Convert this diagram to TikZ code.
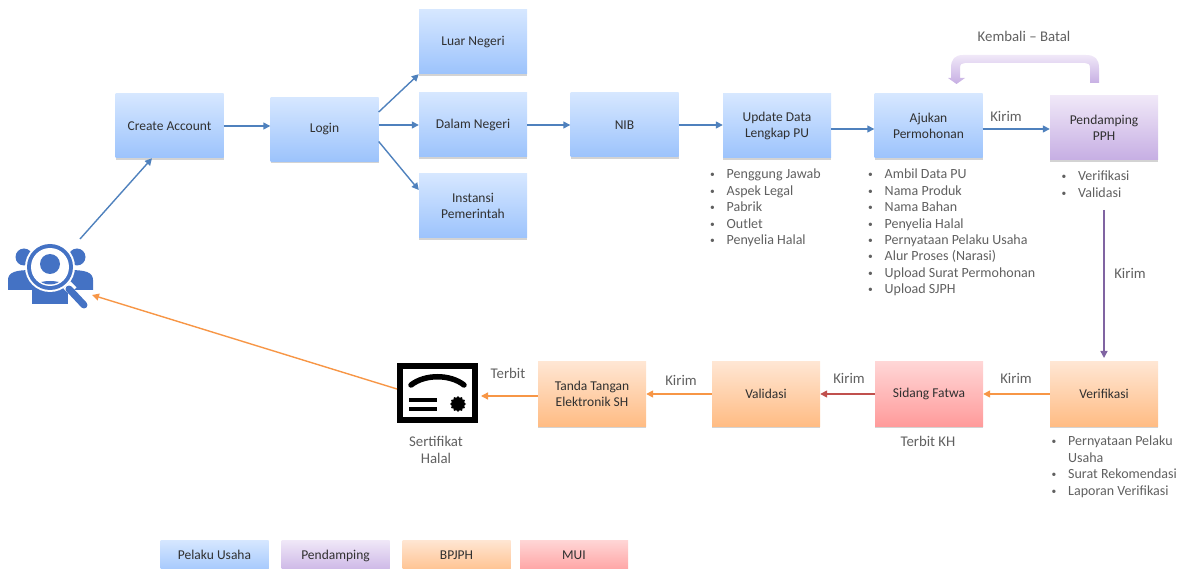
\documentclass[tikz,border=0pt]{standalone}
\usepackage{fontspec}
\setmainfont{Carlito}
\usetikzlibrary{arrows.meta,shadows,shapes.geometric,calc}
\definecolor{bluetop}{HTML}{D6E7FF}
\definecolor{bluebot}{HTML}{9CC3FC}
\definecolor{purtop}{HTML}{F0E8F8}
\definecolor{purbot}{HTML}{C6AEE3}
\definecolor{ortop}{HTML}{FFE6D3}
\definecolor{orbot}{HTML}{FFBC84}
\definecolor{redtop}{HTML}{FFD6D6}
\definecolor{redbot}{HTML}{FF9B9B}
\definecolor{boxtext}{HTML}{303030}
\definecolor{labeltext}{HTML}{606060}
\definecolor{iconblue}{HTML}{4472C4}
\definecolor{linkblue}{HTML}{4F81BD}
\definecolor{linkpurple}{HTML}{8064A2}
\definecolor{linkorange}{HTML}{F79646}
\definecolor{linkred}{HTML}{C0504D}
\newcommand\itm[1]{\makebox[16.5pt][l]{\raisebox{1pt}{\fontsize{9.5}{9.5}\selectfont •}}#1}
\newcommand\low[1]{\raisebox{-1pt}{#1}}
\tikzset{
  x=1pt,y=-1pt,
  basebox/.style={minimum width=108pt,minimum height=64pt,inner sep=1pt,align=center,text=boxtext,
    font=\fontsize{13.5}{16.4}\selectfont,
    drop shadow={shadow xshift=0.3pt,shadow yshift=-1.6pt,opacity=0.35}},
  bluebox/.style={basebox,top color=bluetop,bottom color=bluebot},
  purbox/.style={basebox,top color=purtop,bottom color=purbot},
  orbox/.style={basebox,top color=ortop,bottom color=orbot},
  redbox/.style={basebox,top color=redtop,bottom color=redbot},
  legend/.style={minimum height=36pt,minimum width=108pt},
  lab/.style={text=labeltext,inner sep=0pt,align=center,font=\fontsize{14.8}{16.4}\selectfont},
  lst/.style={text=labeltext,inner sep=0pt,align=left,anchor=north west,font=\fontsize{14}{16.4}\selectfont},
  lk/.style={line width=1.4pt,-{Triangle[length=7pt,width=7pt]}},
  lkblue/.style={lk,draw=linkblue},
  lkpur/.style={lk,draw=linkpurple},
  lkor/.style={lk,draw=linkorange},
  lkred/.style={lk,draw=linkred},
}
\begin{document}
\begin{tikzpicture}
\useasboundingbox (0,0) rectangle (1181,569);
\clip (0,0) rectangle (1181,569);
% process boxes
\node[bluebox] (create) at (169.5,126) {Create Account};
\node[bluebox] (login) at (324.5,129.5) {\low{Login}};
\node[bluebox] (luar) at (473,42) {\low{Luar Negeri}};
\node[bluebox] (dalam) at (473,125) {\low{Dalam Negeri}};
\node[bluebox] (instansi) at (473,206) {Instansi\\Pemerintah};
\node[bluebox] (nib) at (624.5,125) {\low{NIB}};
\node[bluebox] (update) at (777,126) {Update Data\\Lengkap PU};
\node[bluebox] (ajukan) at (928.5,126) {Ajukan\\Permohonan};
\node[purbox] (pph) at (1104,128) {Pendamping\\PPH};
\node[orbox] (verif) at (1104,394) {Verifikasi};
\node[redbox] (sidang) at (929,394) {Sidang Fatwa};
\node[orbox] (valid) at (766,394) {Validasi};
\node[orbox] (tanda) at (592,394) {Tanda Tangan\\Elektronik SH};
% legend
\node[bluebox,legend] (l1) at (214.5,558) {\raisebox{6pt}{Pelaku Usaha}};
\node[purbox,legend] (l2) at (335.5,558) {\raisebox{6pt}{Pendamping}};
\node[orbox,legend] (l3) at (456.5,558) {\raisebox{6pt}{BPJPH}};
\node[redbox,legend] (l4) at (574,558) {\raisebox{6pt}{MUI}};
% people icon
\fill[iconblue] (24,257) circle (8.5);
\fill[iconblue] (77,257) circle (8.5);
\fill[iconblue] (8,290) -- (8,280) .. controls (8,272) and (16,270) .. (32,270) -- (69,270) .. controls (85,270) and (93,272) .. (93,280) -- (93,290) -- cycle;
\fill[iconblue] (32,304) -- (32,282) -- (68,282) -- (68,304) -- cycle;
\fill[white] (50,267) circle (25);
\fill[iconblue] (50,267) circle (23);
\fill[white] (50,267) circle (19);
\fill[iconblue] (50,264) circle (10);
\begin{scope}
\clip (50,267) circle (17.5);
\fill[iconblue] (50,295) ellipse (24 and 14);
\end{scope}
\draw[white,line width=10pt] (67,285) -- (73,291);
\draw[iconblue,line width=7pt,line cap=round] (69,289) -- (84,305);
\coordinate (peopleout) at (80,239);
\coordinate (peoplein) at (92,295);
% certificate icon
\draw[black,line width=6pt] (400,366) rectangle (475,420);
\draw[black,line width=5.5pt,line cap=round] (411,385) .. controls (425,374) and (450,374) .. (464,385);
\draw[black,line width=4pt] (409,400) -- (437,400);
\draw[black,line width=4pt] (409,409) -- (437,409);
\node[star,star points=12,star point ratio=1.25,fill=black,inner sep=0pt,minimum size=16pt] (seal) at (458,404) {};
\coordinate (certin) at (481,396);
\coordinate (certout) at (397,389);
% connectors
\draw[lkblue] (peopleout) -- (create.south -| 152,0);
\draw[lkblue] (create.east) -- (create.east -| login.west);
\draw[lkblue] ($(login.east)+(0,-17.5)$) -- (luar.south west);
\draw[lkblue] (dalam.west -| login.east) -- (dalam.west);
\draw[lkblue] ($(login.east)+(0,12)$) -- ($(instansi.west)+(0,-16)$);
\draw[lkblue] (dalam.east) -- (dalam.east -| nib.west);
\draw[lkblue] (nib.east) -- (nib.east -| update.west);
\draw[lkblue] (update.east |- 0,129) -- (ajukan.west |- 0,129);
\draw[lkblue] (ajukan.east |- 0,129) -- (pph.west |- 0,129);
\coordinate (pphlistend) at (1104,210);
\draw[lkpur] (pphlistend) -- (1104,358);
\draw[lkor] (verif.west) -- (sidang.east);
\draw[lkred] (sidang.west) -- (valid.east);
\draw[lkor] (valid.west) -- (tanda.east);
\draw[lkor] (tanda.west |- certin) -- (certin);
\draw[lkor] (certout) -- (peoplein);
% return arrow
\shade[top color=purtop,bottom color=purbot,draw=none]
  (1099,83) -- (1099,68) .. controls (1099,59) and (1095,55) .. (1086,55) -- (963,55)
  .. controls (955,55) and (951,59) .. (951,68) -- (951,78) -- (948,78) -- (956.5,84) -- (965,78) -- (960,78) -- (960,68)
  .. controls (960,64) and (962,63) .. (965,63) -- (1085,63) .. controls (1088,63) and (1090,64) .. (1090,68) -- (1090,83) -- cycle;
% labels
\node[lab] (tback) at (1024,36) {Kembali – Batal};
\node[lab] (tk1) at (1006,116) {Kirim};
\node[lab] (tk2) at (1130,273) {Kirim};
\node[lab] (tk3) at (1016,378) {Kirim};
\node[lab] (tk4) at (849,378) {Kirim};
\node[lab] (tk5) at (681,380) {Kirim};
\node[lab] (tt) at (508,373) {Terbit};
\node[lab] (tcert) at (436,450) {Sertifikat\\Halal};
\node[lab] (tkh) at (928,441) {Terbit KH};
% lists
\node[lst] (lupdate) at (710,169) {\itm{Penggung Jawab}\\\itm{Aspek Legal}\\\itm{Pabrik}\\\itm{Outlet}\\\itm{Penyelia Halal}};
\node[lst] (lajukan) at (868,169) {\itm{Ambil Data PU}\\\itm{Nama Produk}\\\itm{Nama Bahan}\\\itm{Penyelia Halal}\\\itm{Pernyataan Pelaku Usaha}\\\itm{Alur Proses (Narasi)}\\\itm{Upload Surat Permohonan}\\\itm{Upload SJPH}};
\node[lst] (lpph) at (1061.5,171) {\itm{Verifikasi}\\\itm{Validasi}};
\node[lst] (lverif) at (1051.5,436) {\itm{Pernyataan Pelaku}\\\hspace*{16.5pt}Usaha\\\itm{Surat Rekomendasi}\\\itm{Laporan Verifikasi}};
\end{tikzpicture}
\end{document}
